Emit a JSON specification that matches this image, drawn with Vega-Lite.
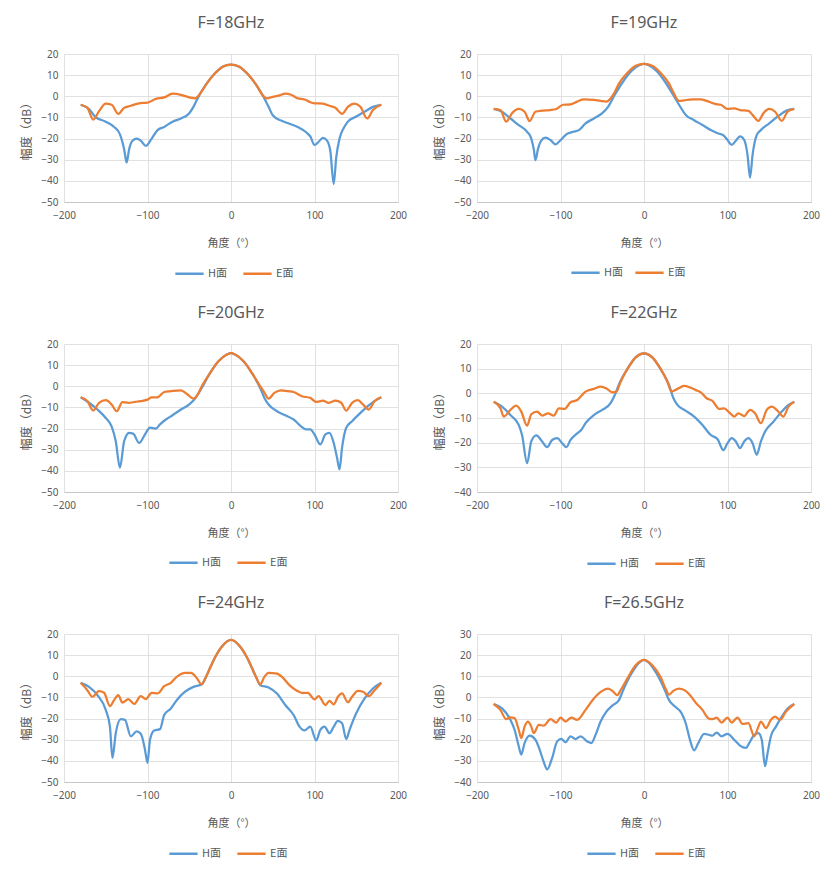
{
  "$schema": "https://vega.github.io/schema/vega-lite/v6.json",
  "padding": {"left": 20, "top": 15, "right": 5, "bottom": 5},
  "background": "white",
  "datasets": {
    "f18": [
      {"plane": "H面", "angle": -180, "dB": -4}, {"plane": "H面", "angle": -170, "dB": -6}, {"plane": "H面", "angle": -163, "dB": -9.6},
      {"plane": "H面", "angle": -150, "dB": -12}, {"plane": "H面", "angle": -140, "dB": -14.5}, {"plane": "H面", "angle": -133, "dB": -18},
      {"plane": "H面", "angle": -128, "dB": -25}, {"plane": "H面", "angle": -125, "dB": -31.3}, {"plane": "H面", "angle": -122, "dB": -25},
      {"plane": "H面", "angle": -118, "dB": -21}, {"plane": "H面", "angle": -113, "dB": -20}, {"plane": "H面", "angle": -108, "dB": -21},
      {"plane": "H面", "angle": -102, "dB": -23.5}, {"plane": "H面", "angle": -95, "dB": -20}, {"plane": "H面", "angle": -88, "dB": -16},
      {"plane": "H面", "angle": -80, "dB": -14.5}, {"plane": "H面", "angle": -70, "dB": -12}, {"plane": "H面", "angle": -60, "dB": -10.5},
      {"plane": "H面", "angle": -50, "dB": -8}, {"plane": "H面", "angle": -45, "dB": -5}, {"plane": "H面", "angle": -40, "dB": -1},
      {"plane": "H面", "angle": -30, "dB": 5.5}, {"plane": "H面", "angle": -20, "dB": 10.5}, {"plane": "H面", "angle": -10, "dB": 14},
      {"plane": "H面", "angle": 0, "dB": 15}, {"plane": "H面", "angle": 10, "dB": 14}, {"plane": "H面", "angle": 20, "dB": 10.5},
      {"plane": "H面", "angle": 30, "dB": 5.5}, {"plane": "H面", "angle": 40, "dB": -1}, {"plane": "H面", "angle": 45, "dB": -5},
      {"plane": "H面", "angle": 50, "dB": -9}, {"plane": "H面", "angle": 60, "dB": -11.5}, {"plane": "H面", "angle": 70, "dB": -13},
      {"plane": "H面", "angle": 80, "dB": -14.5}, {"plane": "H面", "angle": 90, "dB": -17}, {"plane": "H面", "angle": 95, "dB": -19},
      {"plane": "H面", "angle": 100, "dB": -23}, {"plane": "H面", "angle": 105, "dB": -21.5}, {"plane": "H面", "angle": 110, "dB": -19.7},
      {"plane": "H面", "angle": 115, "dB": -21}, {"plane": "H面", "angle": 119, "dB": -26}, {"plane": "H面", "angle": 123, "dB": -41.5},
      {"plane": "H面", "angle": 126, "dB": -29}, {"plane": "H面", "angle": 130, "dB": -20}, {"plane": "H面", "angle": 135, "dB": -15},
      {"plane": "H面", "angle": 140, "dB": -12}, {"plane": "H面", "angle": 150, "dB": -9.6}, {"plane": "H面", "angle": 160, "dB": -7.3},
      {"plane": "H面", "angle": 170, "dB": -5}, {"plane": "H面", "angle": 180, "dB": -4},
      {"plane": "E面", "angle": -180, "dB": -4}, {"plane": "E面", "angle": -172, "dB": -5.5}, {"plane": "E面", "angle": -165, "dB": -11},
      {"plane": "E面", "angle": -158, "dB": -7}, {"plane": "E面", "angle": -150, "dB": -3.5}, {"plane": "E面", "angle": -143, "dB": -4},
      {"plane": "E面", "angle": -135, "dB": -8.3}, {"plane": "E面", "angle": -128, "dB": -5.5}, {"plane": "E面", "angle": -120, "dB": -4.5},
      {"plane": "E面", "angle": -110, "dB": -3.3}, {"plane": "E面", "angle": -100, "dB": -3}, {"plane": "E面", "angle": -90, "dB": -1.2},
      {"plane": "E面", "angle": -80, "dB": -0.5}, {"plane": "E面", "angle": -70, "dB": 1.2}, {"plane": "E面", "angle": -60, "dB": 0.7},
      {"plane": "E面", "angle": -50, "dB": -0.5}, {"plane": "E面", "angle": -43, "dB": -1}, {"plane": "E面", "angle": -38, "dB": 0.7},
      {"plane": "E面", "angle": -30, "dB": 5.5}, {"plane": "E面", "angle": -20, "dB": 10.5}, {"plane": "E面", "angle": -10, "dB": 14},
      {"plane": "E面", "angle": 0, "dB": 15}, {"plane": "E面", "angle": 10, "dB": 14}, {"plane": "E面", "angle": 20, "dB": 10.5},
      {"plane": "E面", "angle": 30, "dB": 5.5}, {"plane": "E面", "angle": 38, "dB": 0.5}, {"plane": "E面", "angle": 43, "dB": -1},
      {"plane": "E面", "angle": 50, "dB": -0.3}, {"plane": "E面", "angle": 57, "dB": 0.3}, {"plane": "E面", "angle": 65, "dB": 1.3},
      {"plane": "E面", "angle": 72, "dB": 0.7}, {"plane": "E面", "angle": 80, "dB": -1}, {"plane": "E面", "angle": 88, "dB": -1.5},
      {"plane": "E面", "angle": 95, "dB": -2.8}, {"plane": "E面", "angle": 100, "dB": -3.3}, {"plane": "E面", "angle": 110, "dB": -3.5},
      {"plane": "E面", "angle": 118, "dB": -4.5}, {"plane": "E面", "angle": 125, "dB": -5.4}, {"plane": "E面", "angle": 133, "dB": -8.3},
      {"plane": "E面", "angle": 140, "dB": -5}, {"plane": "E面", "angle": 148, "dB": -3.5}, {"plane": "E面", "angle": 155, "dB": -5},
      {"plane": "E面", "angle": 163, "dB": -10.5}, {"plane": "E面", "angle": 170, "dB": -6.5}, {"plane": "E面", "angle": 180, "dB": -4}
    ],
    "f19": [
      {"plane": "H面", "angle": -180, "dB": -6}, {"plane": "H面", "angle": -170, "dB": -7.3}, {"plane": "H面", "angle": -160, "dB": -10.5},
      {"plane": "H面", "angle": -150, "dB": -13.6}, {"plane": "H面", "angle": -140, "dB": -16.8}, {"plane": "H面", "angle": -135, "dB": -20},
      {"plane": "H面", "angle": -132, "dB": -25}, {"plane": "H面", "angle": -130, "dB": -30.2}, {"plane": "H面", "angle": -127, "dB": -25},
      {"plane": "H面", "angle": -123, "dB": -21}, {"plane": "H面", "angle": -118, "dB": -19.6}, {"plane": "H面", "angle": -112, "dB": -20.7},
      {"plane": "H面", "angle": -106, "dB": -22.8}, {"plane": "H面", "angle": -100, "dB": -20.8}, {"plane": "H面", "angle": -93, "dB": -18},
      {"plane": "H面", "angle": -85, "dB": -16.8}, {"plane": "H面", "angle": -78, "dB": -16}, {"plane": "H面", "angle": -70, "dB": -12.8},
      {"plane": "H面", "angle": -60, "dB": -10.5}, {"plane": "H面", "angle": -50, "dB": -8}, {"plane": "H面", "angle": -43, "dB": -5},
      {"plane": "H面", "angle": -35, "dB": 0.7}, {"plane": "H面", "angle": -25, "dB": 7}, {"plane": "H面", "angle": -15, "dB": 12},
      {"plane": "H面", "angle": -5, "dB": 14.8}, {"plane": "H面", "angle": 0, "dB": 15.3}, {"plane": "H面", "angle": 5, "dB": 14.8},
      {"plane": "H面", "angle": 15, "dB": 12}, {"plane": "H面", "angle": 25, "dB": 7}, {"plane": "H面", "angle": 35, "dB": 0.6},
      {"plane": "H面", "angle": 42, "dB": -4}, {"plane": "H面", "angle": 50, "dB": -8.8}, {"plane": "H面", "angle": 60, "dB": -11.3},
      {"plane": "H面", "angle": 70, "dB": -13.6}, {"plane": "H面", "angle": 80, "dB": -16}, {"plane": "H面", "angle": 88, "dB": -17.5},
      {"plane": "H面", "angle": 95, "dB": -18.4}, {"plane": "H面", "angle": 100, "dB": -20.7}, {"plane": "H面", "angle": 105, "dB": -23},
      {"plane": "H面", "angle": 110, "dB": -21}, {"plane": "H面", "angle": 115, "dB": -19}, {"plane": "H面", "angle": 120, "dB": -20.7},
      {"plane": "H面", "angle": 124, "dB": -27.8}, {"plane": "H面", "angle": 127, "dB": -38.5}, {"plane": "H面", "angle": 130, "dB": -27.8},
      {"plane": "H面", "angle": 135, "dB": -18.4}, {"plane": "H面", "angle": 140, "dB": -16}, {"plane": "H面", "angle": 150, "dB": -12.8},
      {"plane": "H面", "angle": 160, "dB": -9.6}, {"plane": "H面", "angle": 170, "dB": -6.9}, {"plane": "H面", "angle": 180, "dB": -6},
      {"plane": "E面", "angle": -180, "dB": -6}, {"plane": "E面", "angle": -172, "dB": -6.5}, {"plane": "E面", "angle": -165, "dB": -12},
      {"plane": "E面", "angle": -158, "dB": -8}, {"plane": "E面", "angle": -150, "dB": -6}, {"plane": "E面", "angle": -143, "dB": -7.3},
      {"plane": "E面", "angle": -137, "dB": -11.7}, {"plane": "E面", "angle": -130, "dB": -7.3}, {"plane": "E面", "angle": -122, "dB": -6.8},
      {"plane": "E面", "angle": -113, "dB": -6.5}, {"plane": "E面", "angle": -105, "dB": -6}, {"plane": "E面", "angle": -97, "dB": -4},
      {"plane": "E面", "angle": -88, "dB": -3.8}, {"plane": "E面", "angle": -80, "dB": -2.5}, {"plane": "E面", "angle": -72, "dB": -1.5},
      {"plane": "E面", "angle": -60, "dB": -1.7}, {"plane": "E面", "angle": -52, "dB": -2.2}, {"plane": "E面", "angle": -45, "dB": -2.5},
      {"plane": "E面", "angle": -40, "dB": -1}, {"plane": "E面", "angle": -35, "dB": 2}, {"plane": "E面", "angle": -30, "dB": 6},
      {"plane": "E面", "angle": -20, "dB": 11}, {"plane": "E面", "angle": -10, "dB": 14.4}, {"plane": "E面", "angle": 0, "dB": 15.3},
      {"plane": "E面", "angle": 10, "dB": 14.4}, {"plane": "E面", "angle": 20, "dB": 11}, {"plane": "E面", "angle": 30, "dB": 6},
      {"plane": "E面", "angle": 35, "dB": 2}, {"plane": "E面", "angle": 42, "dB": -2.2}, {"plane": "E面", "angle": 48, "dB": -1.9},
      {"plane": "E面", "angle": 58, "dB": -1.5}, {"plane": "E面", "angle": 68, "dB": -1.5}, {"plane": "E面", "angle": 75, "dB": -2.2},
      {"plane": "E面", "angle": 85, "dB": -3.6}, {"plane": "E面", "angle": 92, "dB": -4}, {"plane": "E面", "angle": 100, "dB": -6},
      {"plane": "E面", "angle": 108, "dB": -5.7}, {"plane": "E面", "angle": 115, "dB": -6.5}, {"plane": "E面", "angle": 125, "dB": -6.9},
      {"plane": "E面", "angle": 130, "dB": -8.8}, {"plane": "E面", "angle": 137, "dB": -11.6}, {"plane": "E面", "angle": 143, "dB": -8},
      {"plane": "E面", "angle": 150, "dB": -6}, {"plane": "E面", "angle": 157, "dB": -7.3}, {"plane": "E面", "angle": 165, "dB": -11.6},
      {"plane": "E面", "angle": 172, "dB": -7.3}, {"plane": "E面", "angle": 180, "dB": -6}
    ],
    "f20": [
      {"plane": "H面", "angle": -180, "dB": -5.2}, {"plane": "H面", "angle": -170, "dB": -7.8}, {"plane": "H面", "angle": -160, "dB": -11},
      {"plane": "H面", "angle": -150, "dB": -15}, {"plane": "H面", "angle": -143, "dB": -19}, {"plane": "H面", "angle": -138, "dB": -26},
      {"plane": "H面", "angle": -133, "dB": -38.5}, {"plane": "H面", "angle": -128, "dB": -26}, {"plane": "H面", "angle": -122, "dB": -22},
      {"plane": "H面", "angle": -117, "dB": -22.5}, {"plane": "H面", "angle": -110, "dB": -26.8}, {"plane": "H面", "angle": -103, "dB": -22.8},
      {"plane": "H面", "angle": -97, "dB": -19.6}, {"plane": "H面", "angle": -90, "dB": -20}, {"plane": "H面", "angle": -85, "dB": -18},
      {"plane": "H面", "angle": -78, "dB": -15.7}, {"plane": "H面", "angle": -70, "dB": -13.7}, {"plane": "H面", "angle": -60, "dB": -11},
      {"plane": "H面", "angle": -50, "dB": -8.6}, {"plane": "H面", "angle": -43, "dB": -5.8}, {"plane": "H面", "angle": -35, "dB": -0.8},
      {"plane": "H面", "angle": -25, "dB": 6.3}, {"plane": "H面", "angle": -15, "dB": 11.8}, {"plane": "H面", "angle": -5, "dB": 15},
      {"plane": "H面", "angle": 0, "dB": 15.7}, {"plane": "H面", "angle": 5, "dB": 15}, {"plane": "H面", "angle": 15, "dB": 11.8},
      {"plane": "H面", "angle": 25, "dB": 6.3}, {"plane": "H面", "angle": 35, "dB": -0.8}, {"plane": "H面", "angle": 40, "dB": -5.5},
      {"plane": "H面", "angle": 45, "dB": -8.6}, {"plane": "H面", "angle": 55, "dB": -11.8}, {"plane": "H面", "angle": 65, "dB": -13.7},
      {"plane": "H面", "angle": 75, "dB": -15.7}, {"plane": "H面", "angle": 85, "dB": -19.3}, {"plane": "H面", "angle": 90, "dB": -20.4},
      {"plane": "H面", "angle": 95, "dB": -20.4}, {"plane": "H面", "angle": 100, "dB": -22.8}, {"plane": "H面", "angle": 107, "dB": -27.5},
      {"plane": "H面", "angle": 113, "dB": -22.8}, {"plane": "H面", "angle": 118, "dB": -22}, {"plane": "H面", "angle": 123, "dB": -26.8},
      {"plane": "H面", "angle": 127, "dB": -33.8}, {"plane": "H面", "angle": 130, "dB": -39.3}, {"plane": "H面", "angle": 133, "dB": -29},
      {"plane": "H面", "angle": 138, "dB": -19.6}, {"plane": "H面", "angle": 145, "dB": -16.5}, {"plane": "H面", "angle": 155, "dB": -12.6},
      {"plane": "H面", "angle": 165, "dB": -9}, {"plane": "H面", "angle": 172, "dB": -7}, {"plane": "H面", "angle": 180, "dB": -5.2},
      {"plane": "E面", "angle": -180, "dB": -5.2}, {"plane": "E面", "angle": -172, "dB": -7}, {"plane": "E面", "angle": -165, "dB": -11.5},
      {"plane": "E面", "angle": -158, "dB": -7.8}, {"plane": "E面", "angle": -150, "dB": -6.6}, {"plane": "E面", "angle": -143, "dB": -8.6},
      {"plane": "E面", "angle": -137, "dB": -11.8}, {"plane": "E面", "angle": -130, "dB": -7.5}, {"plane": "E面", "angle": -123, "dB": -7.8},
      {"plane": "E面", "angle": -115, "dB": -7.4}, {"plane": "E面", "angle": -108, "dB": -7}, {"plane": "E面", "angle": -100, "dB": -6.3},
      {"plane": "E面", "angle": -95, "dB": -5.2}, {"plane": "E面", "angle": -88, "dB": -5.2}, {"plane": "E面", "angle": -80, "dB": -2.7},
      {"plane": "E面", "angle": -72, "dB": -2.3}, {"plane": "E面", "angle": -60, "dB": -1.9}, {"plane": "E面", "angle": -52, "dB": -3.9},
      {"plane": "E面", "angle": -45, "dB": -5.8}, {"plane": "E面", "angle": -40, "dB": -3.9}, {"plane": "E面", "angle": -35, "dB": 0},
      {"plane": "E面", "angle": -25, "dB": 6.3}, {"plane": "E面", "angle": -15, "dB": 11.8}, {"plane": "E面", "angle": -5, "dB": 15},
      {"plane": "E面", "angle": 0, "dB": 15.7}, {"plane": "E面", "angle": 5, "dB": 15}, {"plane": "E面", "angle": 15, "dB": 11.8},
      {"plane": "E面", "angle": 25, "dB": 6.3}, {"plane": "E面", "angle": 35, "dB": 0}, {"plane": "E面", "angle": 40, "dB": -3},
      {"plane": "E面", "angle": 45, "dB": -5.8}, {"plane": "E面", "angle": 52, "dB": -3.1}, {"plane": "E面", "angle": 60, "dB": -1.9},
      {"plane": "E面", "angle": 68, "dB": -2.3}, {"plane": "E面", "angle": 75, "dB": -2.7}, {"plane": "E面", "angle": 85, "dB": -4.7},
      {"plane": "E面", "angle": 95, "dB": -5.5}, {"plane": "E面", "angle": 102, "dB": -7.4}, {"plane": "E面", "angle": 110, "dB": -6.8},
      {"plane": "E面", "angle": 117, "dB": -7.8}, {"plane": "E面", "angle": 125, "dB": -6.8}, {"plane": "E面", "angle": 132, "dB": -7.8},
      {"plane": "E面", "angle": 138, "dB": -11.5}, {"plane": "E面", "angle": 145, "dB": -7.8}, {"plane": "E面", "angle": 152, "dB": -6.6},
      {"plane": "E面", "angle": 158, "dB": -8.6}, {"plane": "E面", "angle": 165, "dB": -11}, {"plane": "E面", "angle": 172, "dB": -7},
      {"plane": "E面", "angle": 180, "dB": -5.2}
    ],
    "f22": [
      {"plane": "H面", "angle": -180, "dB": -3.4}, {"plane": "H面", "angle": -170, "dB": -5.4}, {"plane": "H面", "angle": -160, "dB": -8.8},
      {"plane": "H面", "angle": -150, "dB": -12.8}, {"plane": "H面", "angle": -146, "dB": -17}, {"plane": "H面", "angle": -140, "dB": -28.3},
      {"plane": "H面", "angle": -135, "dB": -19.5}, {"plane": "H面", "angle": -129, "dB": -17}, {"plane": "H面", "angle": -122, "dB": -19.5},
      {"plane": "H面", "angle": -116, "dB": -21.8}, {"plane": "H面", "angle": -110, "dB": -18.9}, {"plane": "H面", "angle": -104, "dB": -18.2},
      {"plane": "H面", "angle": -98, "dB": -20.2}, {"plane": "H面", "angle": -93, "dB": -21.8}, {"plane": "H面", "angle": -88, "dB": -18.9},
      {"plane": "H面", "angle": -80, "dB": -16.2}, {"plane": "H面", "angle": -75, "dB": -14.8}, {"plane": "H面", "angle": -70, "dB": -12.1},
      {"plane": "H面", "angle": -60, "dB": -8.8}, {"plane": "H面", "angle": -50, "dB": -6.7}, {"plane": "H面", "angle": -40, "dB": -4},
      {"plane": "H面", "angle": -35, "dB": -0.7}, {"plane": "H面", "angle": -30, "dB": 3.6}, {"plane": "H面", "angle": -20, "dB": 9.8},
      {"plane": "H面", "angle": -10, "dB": 14.6}, {"plane": "H面", "angle": 0, "dB": 16.2}, {"plane": "H面", "angle": 10, "dB": 14.6},
      {"plane": "H面", "angle": 20, "dB": 9.8}, {"plane": "H面", "angle": 30, "dB": 3.4}, {"plane": "H面", "angle": 35, "dB": -1.8},
      {"plane": "H面", "angle": 40, "dB": -4.7}, {"plane": "H面", "angle": 50, "dB": -7.1}, {"plane": "H面", "angle": 60, "dB": -9.4},
      {"plane": "H面", "angle": 70, "dB": -12.8}, {"plane": "H面", "angle": 80, "dB": -16.9}, {"plane": "H面", "angle": 88, "dB": -18.5},
      {"plane": "H面", "angle": 95, "dB": -23}, {"plane": "H面", "angle": 100, "dB": -20.2}, {"plane": "H面", "angle": 105, "dB": -18.2},
      {"plane": "H面", "angle": 110, "dB": -19.5}, {"plane": "H面", "angle": 115, "dB": -22.2}, {"plane": "H面", "angle": 120, "dB": -19.5},
      {"plane": "H面", "angle": 125, "dB": -18.2}, {"plane": "H面", "angle": 130, "dB": -20.2}, {"plane": "H面", "angle": 135, "dB": -24.9},
      {"plane": "H面", "angle": 140, "dB": -19.5}, {"plane": "H面", "angle": 145, "dB": -15.5}, {"plane": "H面", "angle": 155, "dB": -11.5},
      {"plane": "H面", "angle": 165, "dB": -7.4}, {"plane": "H面", "angle": 172, "dB": -5}, {"plane": "H面", "angle": 180, "dB": -3.4},
      {"plane": "E面", "angle": -180, "dB": -3.4}, {"plane": "E面", "angle": -172, "dB": -6}, {"plane": "E面", "angle": -168, "dB": -9.4},
      {"plane": "E面", "angle": -160, "dB": -6.7}, {"plane": "E面", "angle": -153, "dB": -5}, {"plane": "E面", "angle": -147, "dB": -7.4},
      {"plane": "E面", "angle": -140, "dB": -13.1}, {"plane": "E面", "angle": -135, "dB": -8.5}, {"plane": "E面", "angle": -128, "dB": -7.4},
      {"plane": "E面", "angle": -122, "dB": -9}, {"plane": "E面", "angle": -115, "dB": -8.1}, {"plane": "E面", "angle": -108, "dB": -9},
      {"plane": "E面", "angle": -102, "dB": -6.1}, {"plane": "E面", "angle": -95, "dB": -6.3}, {"plane": "E面", "angle": -88, "dB": -3.6},
      {"plane": "E面", "angle": -80, "dB": -2.7}, {"plane": "E面", "angle": -70, "dB": 0.7}, {"plane": "E面", "angle": -60, "dB": 1.8},
      {"plane": "E面", "angle": -52, "dB": 2.7}, {"plane": "E面", "angle": -45, "dB": 2}, {"plane": "E面", "angle": -38, "dB": 0.4},
      {"plane": "E面", "angle": -33, "dB": 0.7}, {"plane": "E面", "angle": -28, "dB": 4.7}, {"plane": "E面", "angle": -20, "dB": 9.8},
      {"plane": "E面", "angle": -10, "dB": 14.6}, {"plane": "E面", "angle": 0, "dB": 16.2}, {"plane": "E面", "angle": 10, "dB": 14.6},
      {"plane": "E面", "angle": 20, "dB": 9.8}, {"plane": "E面", "angle": 28, "dB": 4.7}, {"plane": "E面", "angle": 33, "dB": 0.7},
      {"plane": "E面", "angle": 40, "dB": 1.8}, {"plane": "E面", "angle": 48, "dB": 3}, {"plane": "E面", "angle": 55, "dB": 2.4},
      {"plane": "E面", "angle": 62, "dB": 1.3}, {"plane": "E面", "angle": 68, "dB": 0.4}, {"plane": "E面", "angle": 75, "dB": -2},
      {"plane": "E面", "angle": 82, "dB": -3.1}, {"plane": "E面", "angle": 90, "dB": -6.3}, {"plane": "E面", "angle": 96, "dB": -6.1},
      {"plane": "E面", "angle": 102, "dB": -7.7}, {"plane": "E面", "angle": 108, "dB": -9.4}, {"plane": "E面", "angle": 113, "dB": -8.1},
      {"plane": "E面", "angle": 120, "dB": -9.2}, {"plane": "E面", "angle": 127, "dB": -6.7}, {"plane": "E面", "angle": 133, "dB": -8.1},
      {"plane": "E面", "angle": 140, "dB": -12.1}, {"plane": "E面", "angle": 147, "dB": -6.7}, {"plane": "E面", "angle": 153, "dB": -5.4},
      {"plane": "E面", "angle": 160, "dB": -7.1}, {"plane": "E面", "angle": 167, "dB": -9.4}, {"plane": "E面", "angle": 173, "dB": -5.4},
      {"plane": "E面", "angle": 180, "dB": -3.4}
    ],
    "f24": [
      {"plane": "H面", "angle": -180, "dB": -3.1}, {"plane": "H面", "angle": -170, "dB": -5}, {"plane": "H面", "angle": -160, "dB": -8.9},
      {"plane": "H面", "angle": -150, "dB": -15.9}, {"plane": "H面", "angle": -145, "dB": -23.8}, {"plane": "H面", "angle": -142, "dB": -38.6},
      {"plane": "H面", "angle": -138, "dB": -26.9}, {"plane": "H面", "angle": -132, "dB": -20.3}, {"plane": "H面", "angle": -127, "dB": -20.6},
      {"plane": "H面", "angle": -120, "dB": -28.4}, {"plane": "H面", "angle": -113, "dB": -26.1}, {"plane": "H面", "angle": -108, "dB": -27.2},
      {"plane": "H面", "angle": -103, "dB": -34.7}, {"plane": "H面", "angle": -100, "dB": -40.9}, {"plane": "H面", "angle": -97, "dB": -30},
      {"plane": "H面", "angle": -92, "dB": -25.6}, {"plane": "H面", "angle": -85, "dB": -25}, {"plane": "H面", "angle": -80, "dB": -18.3},
      {"plane": "H面", "angle": -72, "dB": -15.2}, {"plane": "H面", "angle": -65, "dB": -11.3}, {"plane": "H面", "angle": -55, "dB": -7.3},
      {"plane": "H面", "angle": -45, "dB": -5}, {"plane": "H面", "angle": -35, "dB": -3.8}, {"plane": "H面", "angle": -30, "dB": -0.3},
      {"plane": "H面", "angle": -25, "dB": 4}, {"plane": "H面", "angle": -20, "dB": 8.3}, {"plane": "H面", "angle": -10, "dB": 14.5},
      {"plane": "H面", "angle": 0, "dB": 17.2}, {"plane": "H面", "angle": 10, "dB": 14.5}, {"plane": "H面", "angle": 20, "dB": 8.3},
      {"plane": "H面", "angle": 25, "dB": 4}, {"plane": "H面", "angle": 30, "dB": -0.3}, {"plane": "H面", "angle": 35, "dB": -4.2},
      {"plane": "H面", "angle": 45, "dB": -5.3}, {"plane": "H面", "angle": 55, "dB": -8.1}, {"plane": "H面", "angle": 65, "dB": -13.6},
      {"plane": "H面", "angle": 75, "dB": -18.3}, {"plane": "H面", "angle": 82, "dB": -23.8}, {"plane": "H面", "angle": 88, "dB": -25.6},
      {"plane": "H面", "angle": 95, "dB": -23.8}, {"plane": "H面", "angle": 102, "dB": -30.3}, {"plane": "H面", "angle": 107, "dB": -25.3},
      {"plane": "H面", "angle": 112, "dB": -23.8}, {"plane": "H面", "angle": 118, "dB": -26.9}, {"plane": "H面", "angle": 123, "dB": -23.8},
      {"plane": "H面", "angle": 128, "dB": -21.1}, {"plane": "H面", "angle": 133, "dB": -22.2}, {"plane": "H面", "angle": 138, "dB": -29.7},
      {"plane": "H面", "angle": 142, "dB": -25.3}, {"plane": "H面", "angle": 150, "dB": -17.5}, {"plane": "H面", "angle": 160, "dB": -10.5},
      {"plane": "H面", "angle": 170, "dB": -5.8}, {"plane": "H面", "angle": 180, "dB": -3.1},
      {"plane": "E面", "angle": -180, "dB": -3.1}, {"plane": "E面", "angle": -172, "dB": -6.6}, {"plane": "E面", "angle": -166, "dB": -9.7},
      {"plane": "E面", "angle": -158, "dB": -7}, {"plane": "E面", "angle": -152, "dB": -7.8}, {"plane": "E面", "angle": -145, "dB": -14.1},
      {"plane": "E面", "angle": -140, "dB": -11.3}, {"plane": "E面", "angle": -135, "dB": -8.9}, {"plane": "E面", "angle": -130, "dB": -12.5},
      {"plane": "E面", "angle": -123, "dB": -10.8}, {"plane": "E面", "angle": -116, "dB": -13.1}, {"plane": "E面", "angle": -108, "dB": -9.4},
      {"plane": "E面", "angle": -102, "dB": -10.8}, {"plane": "E面", "angle": -95, "dB": -7.8}, {"plane": "E面", "angle": -88, "dB": -8.1},
      {"plane": "E面", "angle": -80, "dB": -4.7}, {"plane": "E面", "angle": -72, "dB": -3.1}, {"plane": "E面", "angle": -65, "dB": -0.3},
      {"plane": "E面", "angle": -55, "dB": 1.6}, {"plane": "E面", "angle": -48, "dB": 1.6}, {"plane": "E面", "angle": -42, "dB": -0.3},
      {"plane": "E面", "angle": -35, "dB": -3.8}, {"plane": "E面", "angle": -30, "dB": -0.3}, {"plane": "E面", "angle": -25, "dB": 4},
      {"plane": "E面", "angle": -20, "dB": 8.3}, {"plane": "E面", "angle": -10, "dB": 14.5}, {"plane": "E面", "angle": 0, "dB": 17.2},
      {"plane": "E面", "angle": 10, "dB": 14.5}, {"plane": "E面", "angle": 20, "dB": 8.3}, {"plane": "E面", "angle": 25, "dB": 4},
      {"plane": "E面", "angle": 30, "dB": -0.3}, {"plane": "E面", "angle": 35, "dB": -3.8}, {"plane": "E面", "angle": 40, "dB": -0.3},
      {"plane": "E面", "angle": 45, "dB": 1.6}, {"plane": "E面", "angle": 55, "dB": 1.3}, {"plane": "E面", "angle": 62, "dB": -0.6},
      {"plane": "E面", "angle": 70, "dB": -4.2}, {"plane": "E面", "angle": 78, "dB": -6.6}, {"plane": "E面", "angle": 85, "dB": -7.8},
      {"plane": "E面", "angle": 92, "dB": -7.8}, {"plane": "E面", "angle": 100, "dB": -10.9}, {"plane": "E面", "angle": 105, "dB": -9.4},
      {"plane": "E面", "angle": 113, "dB": -13.6}, {"plane": "E面", "angle": 118, "dB": -11.6}, {"plane": "E面", "angle": 123, "dB": -13.3},
      {"plane": "E面", "angle": 128, "dB": -9.7}, {"plane": "E面", "angle": 133, "dB": -8.1}, {"plane": "E面", "angle": 140, "dB": -12.3},
      {"plane": "E面", "angle": 145, "dB": -9.7}, {"plane": "E面", "angle": 152, "dB": -6.9}, {"plane": "E面", "angle": 158, "dB": -7.3},
      {"plane": "E面", "angle": 165, "dB": -9.4}, {"plane": "E面", "angle": 172, "dB": -6.6}, {"plane": "E面", "angle": 180, "dB": -3.1}
    ],
    "f265": [
      {"plane": "H面", "angle": -180, "dB": -3.1}, {"plane": "H面", "angle": -170, "dB": -5.2}, {"plane": "H面", "angle": -160, "dB": -10.6},
      {"plane": "H面", "angle": -155, "dB": -15.3}, {"plane": "H面", "angle": -150, "dB": -23.1}, {"plane": "H面", "angle": -147, "dB": -27},
      {"plane": "H面", "angle": -143, "dB": -21.6}, {"plane": "H面", "angle": -137, "dB": -18.1}, {"plane": "H面", "angle": -130, "dB": -20},
      {"plane": "H面", "angle": -125, "dB": -24.7}, {"plane": "H面", "angle": -120, "dB": -30.6}, {"plane": "H面", "angle": -116, "dB": -34},
      {"plane": "H面", "angle": -110, "dB": -28.6}, {"plane": "H面", "angle": -104, "dB": -20.8}, {"plane": "H面", "angle": -99, "dB": -19.6},
      {"plane": "H面", "angle": -94, "dB": -21.2}, {"plane": "H面", "angle": -88, "dB": -18.4}, {"plane": "H面", "angle": -82, "dB": -19.7},
      {"plane": "H面", "angle": -76, "dB": -18.4}, {"plane": "H面", "angle": -68, "dB": -20.8}, {"plane": "H面", "angle": -63, "dB": -21.6},
      {"plane": "H面", "angle": -58, "dB": -17.7}, {"plane": "H面", "angle": -52, "dB": -11.4}, {"plane": "H面", "angle": -45, "dB": -6.7},
      {"plane": "H面", "angle": -38, "dB": -3.9}, {"plane": "H面", "angle": -30, "dB": -1.3}, {"plane": "H面", "angle": -25, "dB": 3.4},
      {"plane": "H面", "angle": -15, "dB": 11.3}, {"plane": "H面", "angle": -5, "dB": 16.7}, {"plane": "H面", "angle": 0, "dB": 17.8},
      {"plane": "H面", "angle": 5, "dB": 16.7}, {"plane": "H面", "angle": 15, "dB": 11.3}, {"plane": "H面", "angle": 25, "dB": 3.4},
      {"plane": "H面", "angle": 30, "dB": -1.3}, {"plane": "H面", "angle": 35, "dB": -3.6}, {"plane": "H面", "angle": 45, "dB": -7.5},
      {"plane": "H面", "angle": 50, "dB": -12.2}, {"plane": "H面", "angle": 55, "dB": -20}, {"plane": "H面", "angle": 60, "dB": -25},
      {"plane": "H面", "angle": 65, "dB": -21.6}, {"plane": "H面", "angle": 72, "dB": -17.2}, {"plane": "H面", "angle": 78, "dB": -17.7},
      {"plane": "H面", "angle": 82, "dB": -18.1}, {"plane": "H面", "angle": 87, "dB": -16.6}, {"plane": "H面", "angle": 93, "dB": -18.4},
      {"plane": "H面", "angle": 100, "dB": -17.2}, {"plane": "H面", "angle": 108, "dB": -20}, {"plane": "H面", "angle": 115, "dB": -22.8},
      {"plane": "H面", "angle": 122, "dB": -23.9}, {"plane": "H面", "angle": 126, "dB": -21.6}, {"plane": "H面", "angle": 132, "dB": -17.7},
      {"plane": "H面", "angle": 137, "dB": -16.9}, {"plane": "H面", "angle": 141, "dB": -20}, {"plane": "H面", "angle": 145, "dB": -32.5},
      {"plane": "H面", "angle": 148, "dB": -26.3}, {"plane": "H面", "angle": 152, "dB": -18.4}, {"plane": "H面", "angle": 158, "dB": -13.8},
      {"plane": "H面", "angle": 165, "dB": -9.1}, {"plane": "H面", "angle": 172, "dB": -5.2}, {"plane": "H面", "angle": 180, "dB": -3.1},
      {"plane": "E面", "angle": -180, "dB": -3.1}, {"plane": "E面", "angle": -172, "dB": -5.9}, {"plane": "E面", "angle": -165, "dB": -10.3},
      {"plane": "E面", "angle": -160, "dB": -9.4}, {"plane": "E面", "angle": -155, "dB": -9.8}, {"plane": "E面", "angle": -150, "dB": -15.3},
      {"plane": "E面", "angle": -147, "dB": -19.2}, {"plane": "E面", "angle": -143, "dB": -13.8}, {"plane": "E面", "angle": -139, "dB": -11.4},
      {"plane": "E面", "angle": -135, "dB": -13.8}, {"plane": "E面", "angle": -132, "dB": -16.9}, {"plane": "E面", "angle": -126, "dB": -13},
      {"plane": "E面", "angle": -120, "dB": -13.3}, {"plane": "E面", "angle": -112, "dB": -10.3}, {"plane": "E面", "angle": -105, "dB": -11.9},
      {"plane": "E面", "angle": -100, "dB": -9.5}, {"plane": "E面", "angle": -94, "dB": -11.4}, {"plane": "E面", "angle": -87, "dB": -9.5},
      {"plane": "E面", "angle": -80, "dB": -10.6}, {"plane": "E面", "angle": -70, "dB": -5.9}, {"plane": "E面", "angle": -60, "dB": -0.5},
      {"plane": "E面", "angle": -50, "dB": 3.1}, {"plane": "E面", "angle": -43, "dB": 4.2}, {"plane": "E面", "angle": -38, "dB": 3.1},
      {"plane": "E面", "angle": -32, "dB": 1.1}, {"plane": "E面", "angle": -28, "dB": 3.4}, {"plane": "E面", "angle": -20, "dB": 8.9},
      {"plane": "E面", "angle": -10, "dB": 15.2}, {"plane": "E面", "angle": 0, "dB": 17.8}, {"plane": "E面", "angle": 10, "dB": 15.2},
      {"plane": "E面", "angle": 20, "dB": 9.5}, {"plane": "E面", "angle": 26, "dB": 4}, {"plane": "E面", "angle": 30, "dB": 1.3},
      {"plane": "E面", "angle": 35, "dB": 3.1}, {"plane": "E面", "angle": 42, "dB": 4.2}, {"plane": "E面", "angle": 50, "dB": 3.1},
      {"plane": "E面", "angle": 55, "dB": 1.1}, {"plane": "E面", "angle": 62, "dB": -2.5}, {"plane": "E面", "angle": 70, "dB": -5.9},
      {"plane": "E面", "angle": 77, "dB": -9.8}, {"plane": "E面", "angle": 82, "dB": -10.3}, {"plane": "E面", "angle": 87, "dB": -9.5},
      {"plane": "E面", "angle": 93, "dB": -11.9}, {"plane": "E面", "angle": 100, "dB": -9.5}, {"plane": "E面", "angle": 105, "dB": -11.9},
      {"plane": "E面", "angle": 112, "dB": -9.5}, {"plane": "E面", "angle": 118, "dB": -12.5}, {"plane": "E面", "angle": 125, "dB": -12.2},
      {"plane": "E面", "angle": 132, "dB": -18.4}, {"plane": "E面", "angle": 137, "dB": -13.8}, {"plane": "E面", "angle": 140, "dB": -11.4},
      {"plane": "E面", "angle": 146, "dB": -14.5}, {"plane": "E面", "angle": 152, "dB": -10.6}, {"plane": "E面", "angle": 157, "dB": -9.1},
      {"plane": "E面", "angle": 163, "dB": -10.6}, {"plane": "E面", "angle": 170, "dB": -6.7}, {"plane": "E面", "angle": 180, "dB": -3.1}
    ]
  },
  "columns": 2,
  "bounds": "flush",
  "spacing": {"column": 79, "row": 142},
  "concat": [
    {
      "data": {"name": "f18"},
      "title": "F=18GHz",
      "width": 334, "height": 148,
      "mark": {"type": "line", "interpolate": "monotone", "strokeWidth": 2.25},
      "encoding": {
        "x": {"field": "angle", "type": "quantitative", "title": "角度（°）", "scale": {"domain": [-200, 200], "nice": false}, "axis": {"values": [-200, -100, 0, 100, 200]}},
        "y": {"field": "dB", "type": "quantitative", "title": "幅度（dB）", "scale": {"domain": [-50, 20], "nice": false}, "axis": {"values": [-50, -40, -30, -20, -10, 0, 10, 20]}},
        "color": {"field": "plane", "type": "nominal", "sort": null, "scale": {"domain": ["H面", "E面"], "range": ["#5B9BD5", "#ED7D31"]}, "legend": {"legendX": 110, "legendY": 204}}
      }
    },
    {
      "data": {"name": "f19"},
      "title": "F=19GHz",
      "width": 334, "height": 148,
      "mark": {"type": "line", "interpolate": "monotone", "strokeWidth": 2.25},
      "encoding": {
        "x": {"field": "angle", "type": "quantitative", "title": "角度（°）", "scale": {"domain": [-200, 200], "nice": false}, "axis": {"values": [-200, -100, 0, 100, 200]}},
        "y": {"field": "dB", "type": "quantitative", "title": "幅度（dB）", "scale": {"domain": [-50, 20], "nice": false}, "axis": {"values": [-50, -40, -30, -20, -10, 0, 10, 20]}},
        "color": {"field": "plane", "type": "nominal", "sort": null, "scale": {"domain": ["H面", "E面"], "range": ["#5B9BD5", "#ED7D31"]}, "legend": {"legendX": 93, "legendY": 203, "columnPadding": 6}}
      }
    },
    {
      "data": {"name": "f20"},
      "title": "F=20GHz",
      "width": 334, "height": 148,
      "mark": {"type": "line", "interpolate": "monotone", "strokeWidth": 2.25},
      "encoding": {
        "x": {"field": "angle", "type": "quantitative", "title": "角度（°）", "scale": {"domain": [-200, 200], "nice": false}, "axis": {"values": [-200, -100, 0, 100, 200]}},
        "y": {"field": "dB", "type": "quantitative", "title": "幅度（dB）", "scale": {"domain": [-50, 20], "nice": false}, "axis": {"values": [-50, -40, -30, -20, -10, 0, 10, 20]}},
        "color": {"field": "plane", "type": "nominal", "sort": null, "scale": {"domain": ["H面", "E面"], "range": ["#5B9BD5", "#ED7D31"]}, "legend": {"legendX": 104, "legendY": 203}}
      }
    },
    {
      "data": {"name": "f22"},
      "title": "F=22GHz",
      "width": 334, "height": 148,
      "mark": {"type": "line", "interpolate": "monotone", "strokeWidth": 2.25},
      "encoding": {
        "x": {"field": "angle", "type": "quantitative", "title": "角度（°）", "scale": {"domain": [-200, 200], "nice": false}, "axis": {"values": [-200, -100, 0, 100, 200]}},
        "y": {"field": "dB", "type": "quantitative", "title": "幅度（dB）", "scale": {"domain": [-40, 20], "nice": false}, "axis": {"values": [-40, -30, -20, -10, 0, 10, 20]}},
        "color": {"field": "plane", "type": "nominal", "sort": null, "scale": {"domain": ["H面", "E面"], "range": ["#5B9BD5", "#ED7D31"]}, "legend": {"legendX": 109, "legendY": 204}}
      }
    },
    {
      "data": {"name": "f24"},
      "title": "F=24GHz",
      "width": 334, "height": 148,
      "mark": {"type": "line", "interpolate": "monotone", "strokeWidth": 2.25},
      "encoding": {
        "x": {"field": "angle", "type": "quantitative", "title": "角度（°）", "scale": {"domain": [-200, 200], "nice": false}, "axis": {"values": [-200, -100, 0, 100, 200]}},
        "y": {"field": "dB", "type": "quantitative", "title": "幅度（dB）", "scale": {"domain": [-50, 20], "nice": false}, "axis": {"values": [-50, -40, -30, -20, -10, 0, 10, 20]}},
        "color": {"field": "plane", "type": "nominal", "sort": null, "scale": {"domain": ["H面", "E面"], "range": ["#5B9BD5", "#ED7D31"]}, "legend": {"legendX": 104, "legendY": 204}}
      }
    },
    {
      "data": {"name": "f265"},
      "title": "F=26.5GHz",
      "width": 334, "height": 148,
      "mark": {"type": "line", "interpolate": "monotone", "strokeWidth": 2.25},
      "encoding": {
        "x": {"field": "angle", "type": "quantitative", "title": "角度（°）", "scale": {"domain": [-200, 200], "nice": false}, "axis": {"values": [-200, -100, 0, 100, 200]}},
        "y": {"field": "dB", "type": "quantitative", "title": "幅度（dB）", "scale": {"domain": [-40, 30], "nice": false}, "axis": {"values": [-40, -30, -20, -10, 0, 10, 20, 30]}},
        "color": {"field": "plane", "type": "nominal", "sort": null, "scale": {"domain": ["H面", "E面"], "range": ["#5B9BD5", "#ED7D31"]}, "legend": {"legendX": 109, "legendY": 204}}
      }
    }
  ],
  "resolve": {"scale": {"color": "independent", "y": "independent", "x": "independent"}, "legend": {"color": "independent"}},
  "config": {
    "font": "Noto Sans CJK SC",
    "view": {"stroke": null},
    "axis": {
      "grid": true, "gridColor": "#d9d9d9", "gridWidth": 0.8,
      "ticks": false, "tickSize": 0, "domain": false,
      "labelColor": "#595959", "labelFontSize": 10, "labelFont": "Noto Sans",
      "titleColor": "#595959", "titleFontSize": 11, "titleFontWeight": "normal"
    },
    "axisX": {"domain": true, "domainColor": "#bfbfbf", "domainWidth": 0.8, "labelPadding": 8, "titlePadding": 17, "labelFlush": false},
    "axisY": {"labelPadding": 6, "titlePadding": 7, "titleFontSize": 12},
    "title": {"fontSize": 16, "fontWeight": "normal", "color": "#595959", "offset": 18, "font": "Noto Sans"},
    "legend": {
      "orient": "none", "direction": "horizontal", "title": null,
      "symbolType": "stroke", "symbolSize": 800, "symbolStrokeWidth": 2.5,
      "labelFontSize": 11, "labelColor": "#595959", "labelOffset": 3,
      "columnPadding": 10
    }
  }
}
